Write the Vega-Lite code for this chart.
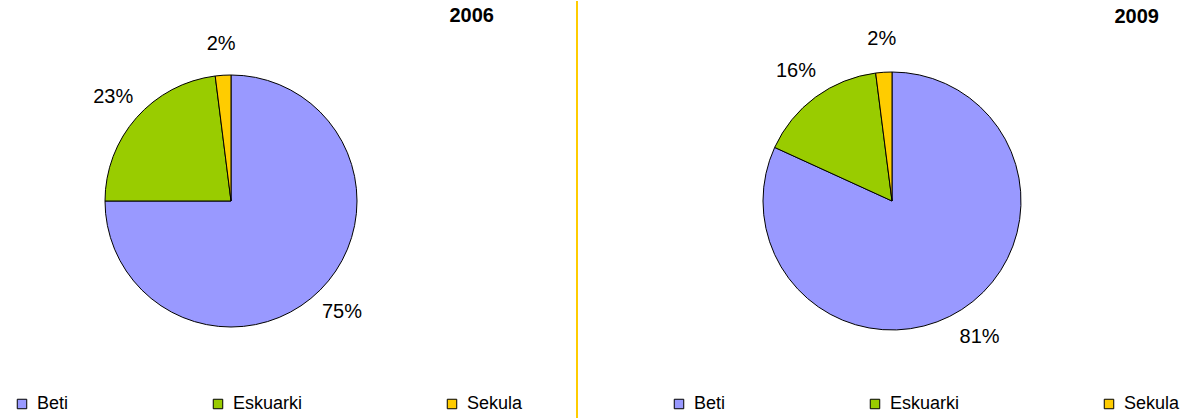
{
  "$schema": "https://vega.github.io/schema/vega-lite/v6.json",
  "padding": 0,
  "bounds": "flush",
  "spacing": 120,
  "background": "white",
  "config": {
    "view": {"stroke": null},
    "font": "Liberation Sans",
    "legend": {
      "orient": "none",
      "direction": "horizontal",
      "title": null,
      "symbolType": "square",
      "symbolSize": 90,
      "symbolStrokeColor": "black",
      "symbolStrokeWidth": 1,
      "labelFontSize": 18,
      "labelFont": "Liberation Sans",
      "labelColor": "black",
      "labelOffset": 6,
      "columnPadding": 140,
      "padding": 0
    }
  },
  "data": {
    "values": [
      {"year": "2006", "answer": "Beti", "share": 0.75},
      {"year": "2006", "answer": "Eskuarki", "share": 0.23},
      {"year": "2006", "answer": "Sekula", "share": 0.02},
      {"year": "2009", "answer": "Beti", "share": 0.81},
      {"year": "2009", "answer": "Eskuarki", "share": 0.16},
      {"year": "2009", "answer": "Sekula", "share": 0.02}
    ]
  },
  "resolve": {"scale": {"color": "independent", "theta": "independent"}, "legend": {"color": "independent"}},
  "hconcat": [
    {
      "width": 462,
      "height": 400,
      "title": {"text": "2006", "anchor": "end", "frame": "group", "dx": 32, "offset": -26, "fontSize": 20, "fontWeight": "bold", "font": "Liberation Sans", "color": "black"},
      "transform": [{"filter": "datum.year == '2006'"}],
      "layer": [
        {
          "mark": {"type": "arc", "outerRadius": 126, "stroke": "black", "strokeWidth": 1},
          "encoding": {
            "theta": {"field": "share", "type": "quantitative", "stack": true},
            "order": {"field": "answer", "sort": "ascending"},
            "color": {
              "field": "answer", "type": "nominal",
              "scale": {"domain": ["Beti", "Eskuarki", "Sekula"], "range": ["#9999FF", "#99CC00", "#FFCC00"]},
              "legend": {"legendX": 13, "legendY": 394}
            }
          }
        },
        {
          "mark": {"type": "text", "radius": 157, "fontSize": 20, "font": "Liberation Sans", "color": "black"},
          "encoding": {
            "theta": {"field": "share", "type": "quantitative", "stack": true},
            "order": {"field": "answer", "sort": "ascending"},
            "detail": {"field": "answer", "type": "nominal"},
            "text": {"field": "share", "type": "quantitative", "format": ".0%"}
          }
        },
        {
          "transform": [{"filter": "datum.answer == 'Beti'"}],
          "mark": {"type": "rule", "color": "#FFCC00", "strokeWidth": 2},
          "encoding": {
            "x": {"datum": 1, "type": "quantitative", "scale": {"domain": [0, 1], "range": [0, 577]}, "axis": null},
            "y": {"datum": 0, "type": "quantitative", "scale": {"domain": [0, 1], "range": [0, 418]}, "axis": null},
            "y2": {"datum": 1}
          }
        }
      ]
    },
    {
      "width": 620,
      "height": 400,
      "title": {"text": "2009", "anchor": "end", "frame": "group", "dx": -43, "offset": -26, "fontSize": 20, "fontWeight": "bold", "font": "Liberation Sans", "color": "black"},
      "transform": [{"filter": "datum.year == '2009'"}],
      "layer": [
        {
          "mark": {"type": "arc", "outerRadius": 129, "stroke": "black", "strokeWidth": 1},
          "encoding": {
            "theta": {"field": "share", "type": "quantitative", "stack": true},
            "order": {"field": "answer", "sort": "ascending"},
            "color": {
              "field": "answer", "type": "nominal",
              "scale": {"domain": ["Beti", "Eskuarki", "Sekula"], "range": ["#9999FF", "#99CC00", "#FFCC00"]},
              "legend": {"legendX": 88, "legendY": 394}
            }
          }
        },
        {
          "mark": {"type": "text", "radius": 162, "fontSize": 20, "font": "Liberation Sans", "color": "black"},
          "encoding": {
            "theta": {"field": "share", "type": "quantitative", "stack": true},
            "order": {"field": "answer", "sort": "ascending"},
            "detail": {"field": "answer", "type": "nominal"},
            "text": {"field": "share", "type": "quantitative", "format": ".0%"}
          }
        }
      ]
    }
  ]
}
